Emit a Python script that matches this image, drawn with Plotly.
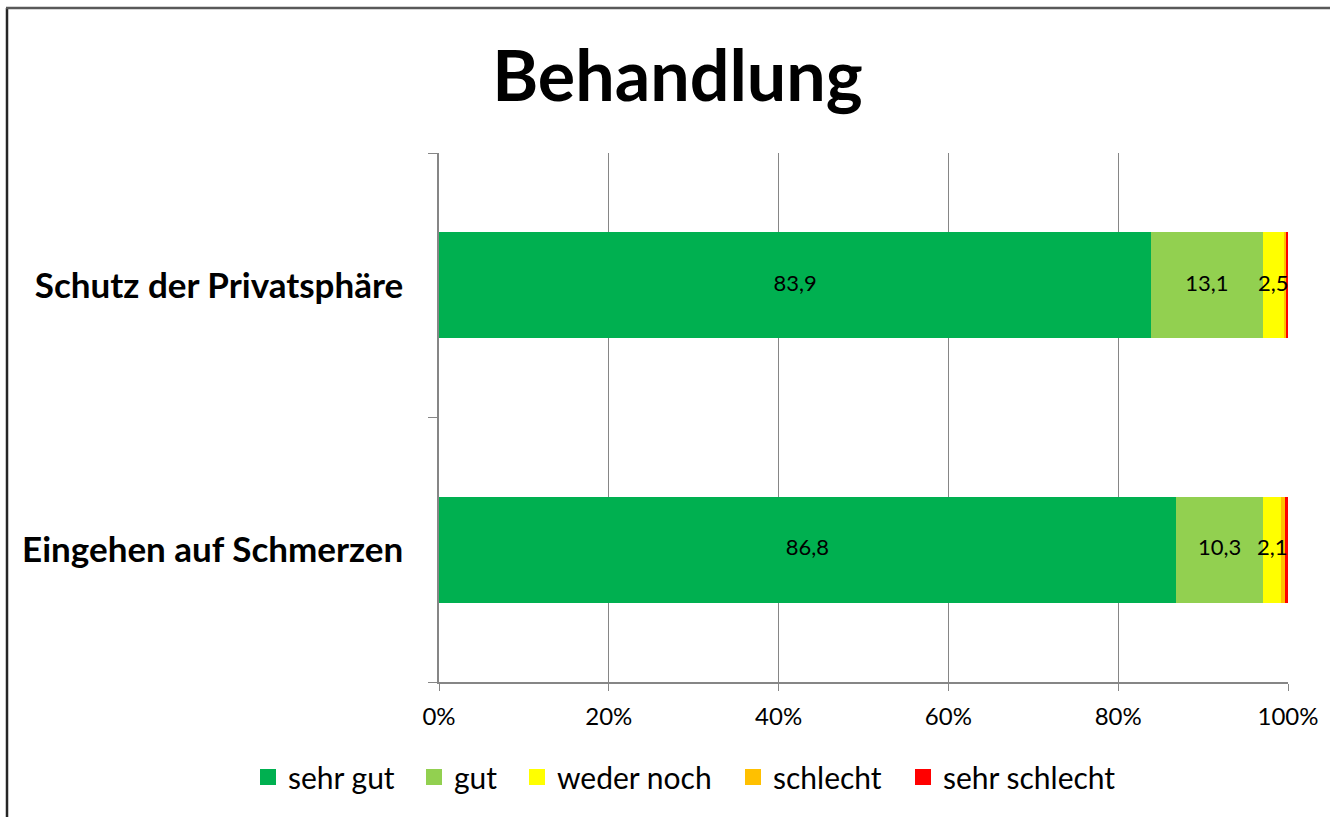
import plotly.graph_objects as go

categories = ["Eingehen auf Schmerzen", "Schutz der Privatsphäre"]
category_labels = ["<b>Eingehen auf Schmerzen</b>", "<b>Schutz der Privatsphäre</b>"]
series_names = ["sehr gut", "gut", "weder noch", "schlecht", "sehr schlecht"]
sehr_gut = [86.8, 83.9]
gut = [10.3, 13.1]
weder_noch = [2.1, 2.5]
schlecht = [0.5, 0.3]
sehr_schlecht = [0.3, 0.2]
x_ticks = [0, 20, 40, 60, 80, 100]
x_tick_labels = ["0%", "20%", "40%", "60%", "80%", "100%"]

colors = ["#00B050", "#92D050", "#FFFF00", "#FFC000", "#FF0000"]
values = [sehr_gut, gut, weder_noch, schlecht, sehr_schlecht]
show_label = [True, True, True, False, False]
# left pixel position of each legend swatch (layout only)
legend_px = [260, 426, 529, 745, 915]

FONT = "Lato, Liberation Sans, sans-serif"

W, H = 1330, 817
L, R, T, B = 439, 42, 153, 135
pw, ph = W - L - R, H - T - B

def px_x(p):
    return (p - L) / pw

def px_y(p):
    return (H - B - p) / ph

fig = go.Figure()
for name, vals, col in zip(series_names, values, colors):
    fig.add_trace(go.Bar(
        y=categories, x=vals, name=name, orientation="h",
        marker=dict(color=col, line=dict(width=0)),
        hoverinfo="skip",
        showlegend=False,
    ))

# data labels drawn on top of all bars, centred on each segment
base = [0.0] * len(categories)
for name, vals, lab in zip(series_names, values, show_label):
    mids = [b + v / 2 for b, v in zip(base, vals)]
    if lab:
        fig.add_trace(go.Scatter(
            x=mids, y=categories, mode="text",
            text=[f"{v:.1f}".replace(".", ",") for v in vals],
            textposition="middle center",
            textfont=dict(color="black", size=22, family=FONT),
            cliponaxis=False, hoverinfo="skip", showlegend=False,
        ))
    base = [b + v for b, v in zip(base, vals)]

legend_layouts = {}
for i, (name, col, lp) in enumerate(zip(series_names, colors, legend_px)):
    key = "legend" if i == 0 else f"legend{i + 1}"
    fig.add_trace(go.Scatter(
        x=[None], y=[None], mode="markers", name=name,
        marker=dict(symbol="square", size=17, color=col),
        showlegend=True, hoverinfo="skip", legend=key,
    ))
    legend_layouts[key] = dict(
        orientation="h", x=px_x(lp - 12), xanchor="left", xref="paper",
        y=px_y(777), yanchor="middle",
        font=dict(size=30, family=FONT), itemwidth=30,
        bgcolor="rgba(0,0,0,0)", borderwidth=0,
    )

fig.update_layout(
    width=W, height=H,
    barmode="stack", bargap=0.6,
    separators=",.",
    paper_bgcolor="white", plot_bgcolor="white",
    margin=dict(l=L, r=R, t=T, b=B, autoexpand=False),
    font=dict(family=FONT, color="black"),
    title=dict(text="<b>Behandlung</b>", x=677.5 / W, xanchor="center", xref="container",
               y=1 - 76 / H, yanchor="middle", yref="container",
               font=dict(size=70, family=FONT, color="black")),
    xaxis=dict(range=[0, 100], tickvals=x_ticks, ticktext=x_tick_labels,
               showgrid=True, gridcolor="#868686", gridwidth=1.3,
               showline=True, linecolor="#868686", linewidth=1.5,
               ticks="outside", ticklen=7, tickcolor="#868686",
               tickfont=dict(size=24, family=FONT), zeroline=False,
               ticklabelstandoff=5, fixedrange=True),
    yaxis=dict(type="category", tickvals=categories, ticktext=category_labels,
               showline=True, linecolor="#868686", linewidth=1.5,
               ticks="outside", ticklen=9, tickcolor="#868686", tickson="boundaries",
               tickfont=dict(size=35, family=FONT), ticklabelstandoff=27,
               showgrid=False, fixedrange=True),
    shapes=[
        dict(type="line", xref="paper", yref="paper",
             x0=px_x(7), x1=px_x(7), y0=px_y(8), y1=px_y(820),
             line=dict(color="#262626", width=2.5)),
        dict(type="line", xref="paper", yref="paper",
             x0=px_x(6), x1=px_x(1332), y0=px_y(8), y1=px_y(8),
             line=dict(color="#595959", width=2.5)),
    ],
    **legend_layouts,
)

fig.write_html("out.html", config={"displayModeBar": False},
               post_script="document.body.style.margin='0';")
